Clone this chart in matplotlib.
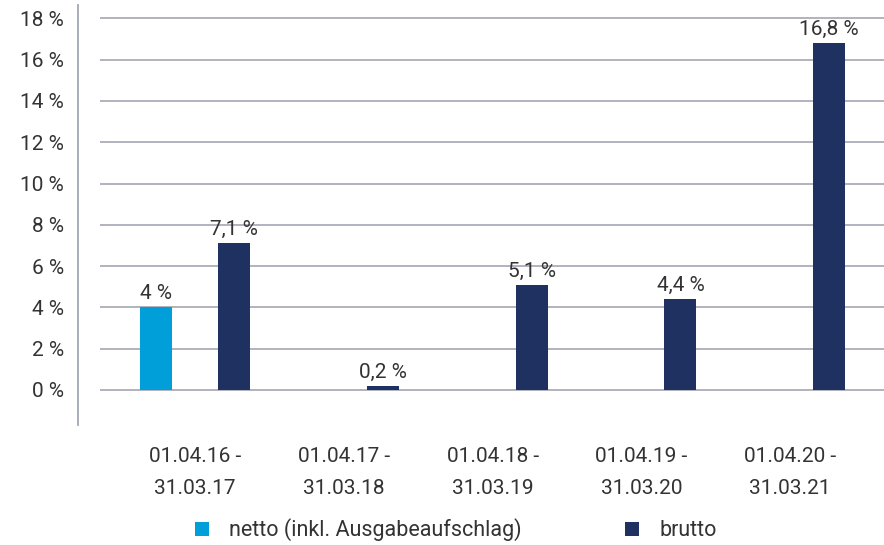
import matplotlib
matplotlib.use("Agg")
import matplotlib.pyplot as plt
import numpy as np

categories = ["01.04.16 -\n31.03.17", "01.04.17 -\n31.03.18", "01.04.18 -\n31.03.19",
              "01.04.19 -\n31.03.20", "01.04.20 -\n31.03.21"]
netto = [4.0, None, None, None, None]
brutto = [7.1, 0.2, 5.1, 4.4, 16.8]
netto_labels = ["4 %", "", "", "", ""]
brutto_labels = ["7,1 %", "0,2 %", "5,1 %", "4,4 %", "16,8 %"]
yticks = [0, 2, 4, 6, 8, 10, 12, 14, 16, 18]
series_names = ["netto (inkl. Ausgabeaufschlag)", "brutto"]

plt.rcParams['font.family'] = ['Roboto', 'DejaVu Sans']
txt_color = "#333333"
c_netto = "#009FDA"
c_brutto = "#1F3160"
grid_c = "#A3A7B4"
fs = 15

fig = plt.figure(figsize=(8.84, 5.45), dpi=100)
ax = fig.add_axes([100/884, 1-425/545, 1-100/884, (425-5)/545])

x = np.arange(len(categories))
w = 0.215
off = 0.262
nx = [xi - off for xi, v in zip(x, netto) if v is not None]
nv = [v for v in netto if v is not None]
nl = [l for v, l in zip(netto, netto_labels) if v is not None]
b1 = ax.bar(nx, nv, width=w, color=c_netto, zorder=3, label=series_names[0])
b2 = ax.bar(x + off, brutto, width=w, color=c_brutto, zorder=3, label=series_names[1])
ax.bar_label(b1, labels=nl, padding=3, fontsize=fs, color=txt_color)
ax.bar_label(b2, labels=brutto_labels, padding=3, fontsize=fs, color=txt_color)

ax.set_xlim(-0.64, 4.63)
ax.set_ylim(-1.7, 18.65)
ax.set_yticks(yticks)
ax.set_yticklabels([f"{t} %" for t in yticks])
ax.set_xticks(x)
ax.set_xticklabels(categories, linespacing=1.85)
ax.tick_params(axis='y', length=0, pad=10, labelsize=fs, labelcolor=txt_color)
ax.tick_params(axis='x', length=0, pad=16, labelsize=fs, labelcolor=txt_color)
ax.yaxis.grid(True, color=grid_c, linewidth=1.2, zorder=0)
ax.set_axisbelow(True)
for s in ['top', 'right', 'bottom']:
    ax.spines[s].set_visible(False)
ax.spines['left'].set_position(('outward', 16))
ax.spines['left'].set_color(grid_c)
ax.spines['left'].set_linewidth(1.3)

fig.legend(handles=[b1, b2], labels=series_names, loc='center',
           bbox_to_anchor=(0.516, 1-530/545), ncol=2, frameon=False,
           fontsize=15.5, labelcolor=txt_color, handlelength=0.65, handleheight=0.65,
           handletextpad=0.93, columnspacing=4.8)

fig.savefig("out.png", dpi=100)
